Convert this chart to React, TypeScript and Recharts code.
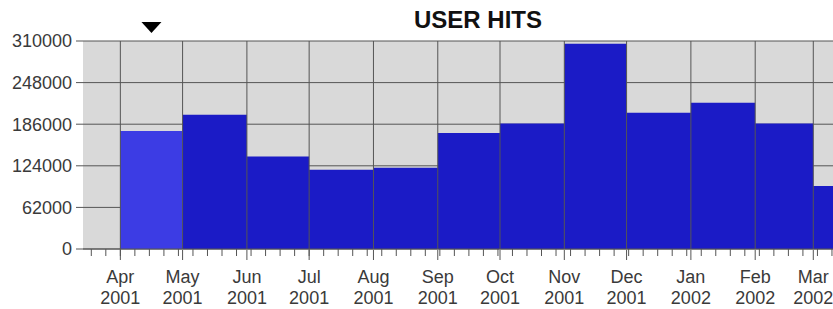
import React from "react";
import {
  Area,
  CartesianGrid,
  ComposedChart,
  ReferenceDot,
  ReferenceLine,
  XAxis,
  YAxis,
} from "recharts";

// monthly user hits, Apr 2001 - Mar 2002
const months = ["Apr", "May", "Jun", "Jul", "Aug", "Sep", "Oct", "Nov", "Dec", "Jan", "Feb", "Mar"];
const years = [2001, 2001, 2001, 2001, 2001, 2001, 2001, 2001, 2001, 2002, 2002, 2002];
const hits = [176000, 200000, 138000, 118000, 121000, 173000, 187000, 306000, 203000, 218000, 187000, 94000];
const yTicks = [0, 62000, 124000, 186000, 248000, 310000];
const selectedMonth = 0;

const MONTH_NAMES = ["Jan", "Feb", "Mar", "Apr", "May", "Jun", "Jul", "Aug", "Sep", "Oct", "Nov", "Dec"];
const DAY = 86400000;
const origin = Date.UTC(years[0], MONTH_NAMES.indexOf(months[0]), 1);
const dayOf = (y: number, m: number) => (Date.UTC(y, m, 1) - origin) / DAY;

const starts = months.map((m, i) => dayOf(years[i], MONTH_NAMES.indexOf(m)));
const last = months.length - 1;
const end = dayOf(years[last], MONTH_NAMES.indexOf(months[last]) + 1);

// step rows: one per month start, plus a closing row
const data = [...starts, end].map((day, i) => ({
  day,
  hits: hits[Math.min(i, last)],
  sel: i === selectedMonth || i === selectedMonth + 1 ? hits[selectedMonth] : null,
}));

const xDomain: [number, number] = [-18, 343.5];
const weekTicks: number[] = [];
for (let d = Math.ceil(xDomain[0] / 7) * 7; d <= xDomain[1]; d += 7) weekTicks.push(d);

const selectedMid = (starts[selectedMonth] + (starts[selectedMonth + 1] ?? end)) / 2;

const FONT = "Arial, 'Liberation Sans', sans-serif";
const GRID = "#555555";
const WEEK = "a_week";
const MONTH = "b_month";

const MonthTick = ({ x, y, payload }: any) => {
  const i = starts.indexOf(payload.value);
  if (i < 0) return null;
  return (
    <g fontFamily={FONT} fontSize={18} fill="#3a3a3a" textAnchor="middle">
      <text x={x} y={y + 21}>{months[i]}</text>
      <text x={x} y={y + 42}>{years[i]}</text>
    </g>
  );
};

const Marker = ({ cx, cy }: any) => (
  <polygon points={`${cx - 10},${cy - 19} ${cx + 10},${cy - 19} ${cx},${cy - 8}`} fill="#000" />
);

const App = () => {
  return (
    <div style={{ position: "absolute", left: 0, top: 0, width: 833, height: 309, background: "#fff" }}>
      <div
        style={{
          position: "absolute",
          left: 378,
          top: 8,
          width: 200,
          textAlign: "center",
          fontFamily: FONT,
          fontWeight: "bold",
          fontSize: 24,
          lineHeight: "24px",
          color: "#111",
        }}
      >
        USER HITS
      </div>
      <ComposedChart
        width={833}
        height={309}
        data={data}
        margin={{ top: 41, right: 0, bottom: 0, left: 0 }}
      >
        <CartesianGrid xAxisId={MONTH} vertical={false} stroke={GRID} fill="#d9d9d9" fillOpacity={1} />
        {/* weekly minor ticks, drawn right under the plot */}
        <XAxis
          xAxisId={WEEK}
          type="number"
          dataKey="day"
          domain={xDomain}
          allowDataOverflow
          ticks={weekTicks}
          interval={0}
          height={1}
          tick={() => <g />}
          tickSize={7}
          tickLine={{ stroke: GRID }}
          axisLine={{ stroke: GRID }}
        />
        <XAxis
          xAxisId={MONTH}
          type="number"
          dataKey="day"
          domain={xDomain}
          allowDataOverflow
          ticks={starts}
          interval={0}
          height={59}
          tickSize={10}
          tickLine={{ stroke: GRID }}
          axisLine={false}
          tick={<MonthTick />}
        />
        <YAxis
          type="number"
          domain={[0, 310000]}
          ticks={yTicks}
          interval={0}
          width={83}
          tickSize={7}
          tickMargin={4}
          tickLine={{ stroke: GRID }}
          axisLine={false}
          tick={{ fill: "#3a3a3a", fontSize: 18, fontFamily: FONT }}
        />
        <Area
          xAxisId={MONTH}
          type="stepAfter"
          dataKey="hits"
          stroke="none"
          fill="#1b1bc6"
          fillOpacity={1}
          isAnimationActive={false}
        />
        <Area
          xAxisId={MONTH}
          type="stepAfter"
          dataKey="sel"
          stroke="none"
          fill="#3c3ce4"
          fillOpacity={1}
          isAnimationActive={false}
        />
        {starts.map((d) => (
          <ReferenceLine key={d} xAxisId={MONTH} x={d} stroke={GRID} strokeWidth={1} />
        ))}
        <ReferenceDot xAxisId={MONTH} x={selectedMid} y={310000} shape={<Marker />} />
      </ComposedChart>
    </div>
  );
};

export default App;
